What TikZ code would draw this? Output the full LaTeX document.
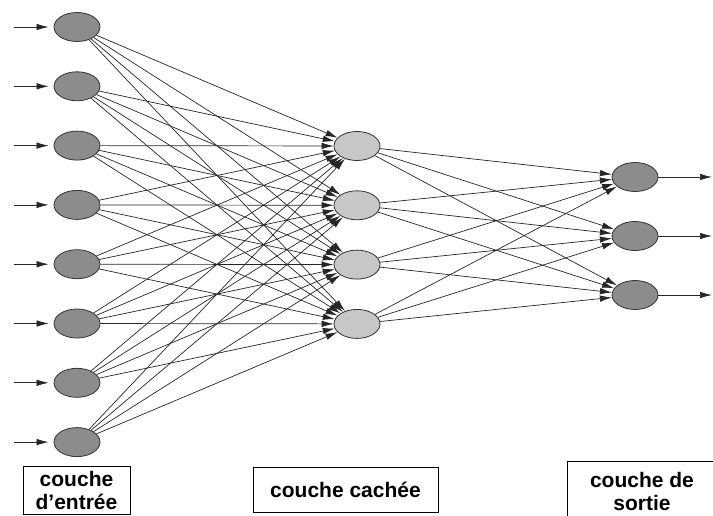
\documentclass[tikz,border=0pt]{standalone}
\usepackage{fontspec}
\setmainfont{Liberation Sans}
\usetikzlibrary{arrows.meta,shapes.geometric}

\begin{document}
\begin{tikzpicture}[x=1pt, y=-1pt,
  neuron/.style={ellipse, draw=black!80, line width=0.8pt, minimum width=46pt, minimum height=29pt, inner sep=0pt},
  innode/.style={neuron, fill=black!45},
  hidnode/.style={neuron, fill=black!22},
  outnode/.style={neuron, fill=black!45},
  link/.style={draw=black!85, line width=0.7pt, -{Latex[length=12pt,width=6.5pt]}},
  layerbox/.style={draw, line width=1pt, font=\bfseries\fontsize{21}{23}\selectfont, align=center, inner sep=0pt}]
  \useasboundingbox (0,0) rectangle (713,515);
  \foreach \i in {1,...,8} {
    \node[innode] (in-\i) at (77, {27+59.3*(\i-1)}) {};
    \coordinate (src-\i) at (14, {27+59.3*(\i-1)});
  }
  \foreach \j in {1,...,4}
    \node[hidnode] (hid-\j) at (357, {146+59.3*(\j-1)}) {};
  \foreach \k in {1,2,3} {
    \node[outnode] (out-\k) at (635, {177+59*(\k-1)}) {};
    \coordinate (dst-\k) at (712, {177+59*(\k-1)});
  }
  \foreach \i in {1,...,8} {
    \draw[link, shorten >=5pt] (src-\i) -- (in-\i);
    \foreach \j in {1,...,4}
      \draw[link] (in-\i) -- (hid-\j);
  }
  \foreach \j in {1,...,4}
    \foreach \k in {1,2,3}
      \draw[link] (hid-\j) -- (out-\k);
  \foreach \k in {1,2,3}
    \draw[link] (out-\k) -- (dst-\k);
  \node[layerbox, minimum width=107pt, minimum height=48pt] (lab-in) at (76.5, 490) {couche\\d'entrée};
  \node[layerbox, minimum width=185pt, minimum height=45pt] (lab-hid) at (345.5, 489.5) {couche cachée};
  \node[layerbox, minimum width=150pt, minimum height=60pt] (lab-out) at (642, 491) {couche de\\sortie};
\end{tikzpicture}
\end{document}
